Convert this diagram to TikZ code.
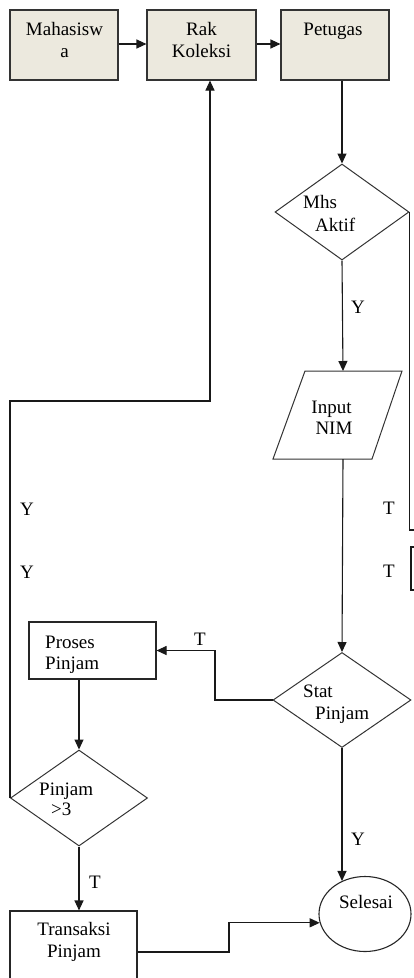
\documentclass[tikz,border=0pt]{standalone}
\usepackage{fontspec}
\setmainfont{Liberation Serif}
\usetikzlibrary{shapes.geometric,arrows.meta}
\definecolor{boxfill}{HTML}{ECE9DE}
\begin{document}
\begin{tikzpicture}[x=1pt,y=-1pt,
  procbox/.style={rectangle, draw=black!80, fill=boxfill, line width=1.1pt, inner sep=0pt},
  whitebox/.style={rectangle, draw=black!85, fill=white, line width=1.1pt, inner sep=0pt},
  dec/.style={diamond, draw=black!80, line width=1pt, inner sep=0pt},
  conn/.style={draw=black!90, line width=1.1pt},
  arr/.style={conn, -{Triangle[length=10pt,width=9pt]}},
  txt/.style={font=\fontsize{19}{22}\selectfont, anchor=base, inner sep=0pt}]
\useasboundingbox (0,0) rectangle (414,978);
% top boxes
\node[procbox, minimum width=108pt, minimum height=70pt] (mhs) at (64,45) {};
\node[procbox, minimum width=109pt, minimum height=70pt] (rak) at (201.5,45) {};
\node[procbox, minimum width=108pt, minimum height=70pt] (ptg) at (335,45) {};
\node[txt] (t1) at (64.5,35) {Mahasisw};
\node[txt] (t2) at (64.5,57) {a};
\node[txt] (t3) at (201.5,35) {Rak};
\node[txt] (t4) at (201.5,57) {Koleksi};
\node[txt] (t5) at (333,35) {Petugas};
% decision Mhs Aktif
\node[dec, minimum width=134pt, minimum height=96pt] (ma) at (342,212) {};
\node[txt, anchor=base west] (t6) at (303,208) {Mhs};
\node[txt, anchor=base west] (t7) at (315,231) {Aktif};
% input NIM parallelogram
\coordinate (inA) at (305,371);
\coordinate (inB) at (402,371);
\coordinate (inC) at (372,459);
\coordinate (inD) at (273,459);
\coordinate (intop) at (343,371);
\coordinate (inbot) at (343,459);
\draw[line width=1pt, draw=black!80] (inA) -- (inB) -- (inC) -- (inD) -- cycle;
\node[txt] (t8) at (331.5,413) {Input};
\node[txt] (t9) at (334,434) {NIM};
% decision Stat Pinjam
\node[dec, minimum width=138pt, minimum height=95pt] (sp) at (342,700) {};
\node[txt, anchor=base west] (t10) at (303,697) {Stat};
\node[txt, anchor=base west] (t11) at (315,719) {Pinjam};
% Proses Pinjam
\node[whitebox, minimum width=127pt, minimum height=57pt] (pp) at (92.5,650.5) {};
\node[txt, anchor=base west] (t12) at (45,648) {Proses};
\node[txt, anchor=base west] (t13) at (45,669) {Pinjam};
% decision Pinjam >3
\node[dec, minimum width=137pt, minimum height=96pt] (p3) at (79,798) {};
\node[txt, anchor=base west] (t14) at (39,795) {Pinjam};
\node[txt, anchor=base west] (t15) at (51,815) {>3};
% Transaksi Pinjam
\node[whitebox, minimum width=127pt, minimum height=90pt] (tr) at (73.5,956) {};
\node[txt] (t16) at (74,935) {Transaksi};
\node[txt] (t17) at (74,957) {Pinjam};
% Selesai
\node[ellipse, draw=black!85, line width=1.1pt, minimum width=92pt, minimum height=75pt, inner sep=0pt] (sel) at (365,914) {};
\node[txt] (t18) at (366,908) {Selesai};
% labels
\node[txt] (y1) at (358,313) {Y};
\node[txt] (tr1) at (389,514) {T};
\node[txt] (tr2) at (389,577) {T};
\node[txt] (yl1) at (27,515) {Y};
\node[txt] (yl2) at (27,578) {Y};
\node[txt] (tt) at (200,645) {T};
\node[txt] (y2) at (358,845) {Y};
\node[txt] (tb) at (95,888) {T};
% connectors
\draw[arr] (mhs.east |- 0,44) -- (rak.west |- 0,44);
\draw[arr] (rak.east |- 0,44) -- (ptg.west |- 0,44);
\draw[arr] (ptg.south -| ma.north) -- (ma.north);
\coordinate (c1) at (414,530);
\draw[conn] (ma.east) -- (ma.east |- c1) -- (c1);
\coordinate (b1) at (414,547);
\coordinate (b2) at (414,590);
\draw[conn] (b1) -- ++(-3,0) |- (b2);
\draw[arr] (ma.south) -- (intop);
\draw[arr] (inbot) -- (sp.north);
\coordinate (k1) at (215,700);
\draw[arr] (sp.west) -- (k1) |- (pp.east);
\draw[arr] (sp.south) -- (sp.south |- sel.125);
\draw[arr] (pp.south -| p3.north) -- (p3.north);
\coordinate (k2) at (10,401);
\coordinate (k3) at (210,401);
\draw[arr] (p3.west) -- (k2) -- (k3) -- (k3 |- rak.south);
\draw[arr] (p3.south) -- (p3.south |- tr.north);
\coordinate (k4) at (229,952);
\draw[arr] (tr.east |- k4) -- (k4) |- (sel.191);
\end{tikzpicture}
\end{document}
